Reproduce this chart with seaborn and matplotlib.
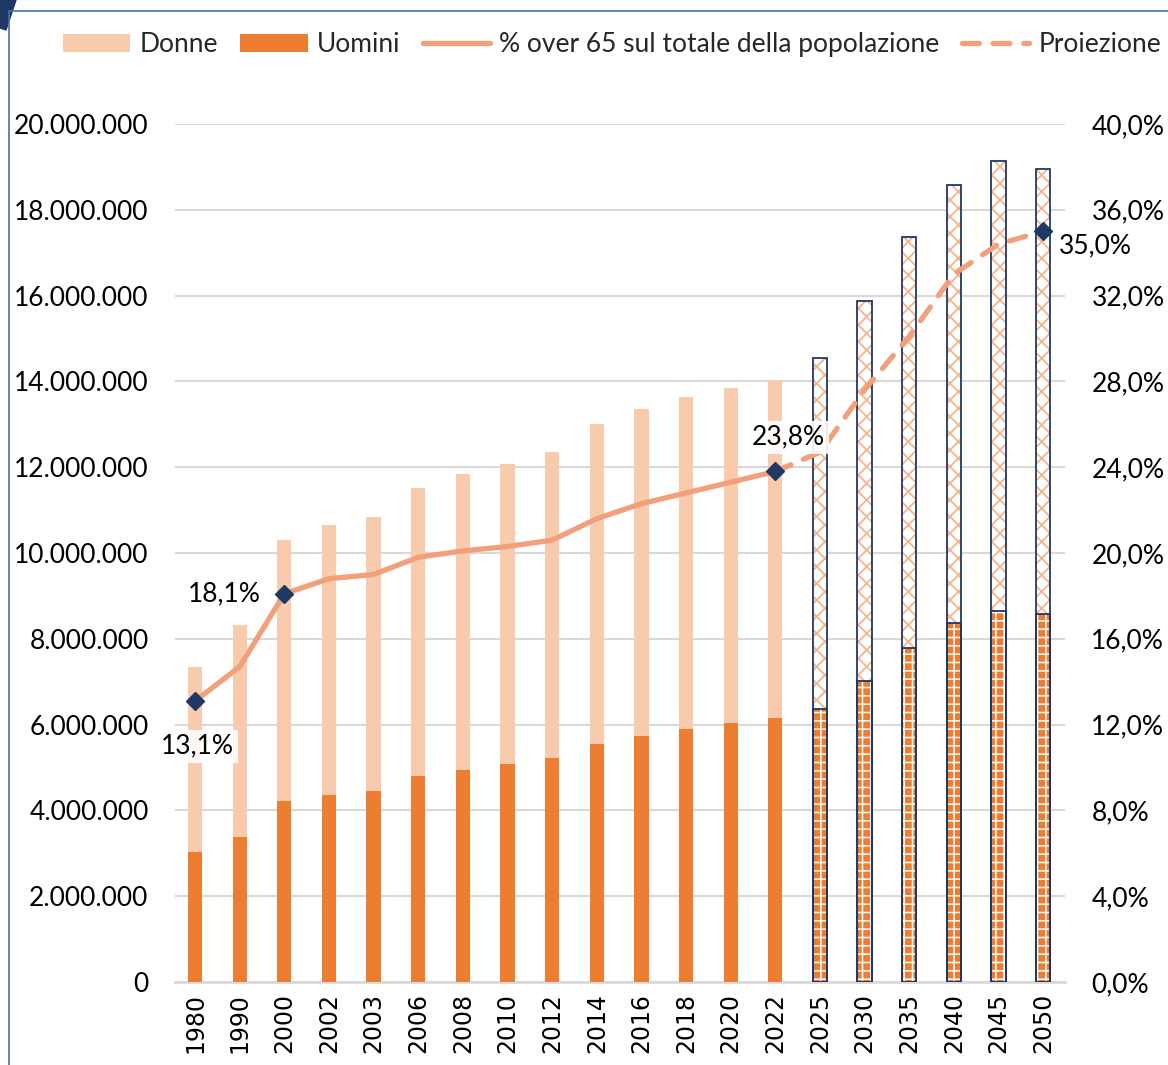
import numpy as np
import pandas as pd
import matplotlib
matplotlib.use("Agg")
import matplotlib.pyplot as plt
from matplotlib.lines import Line2D
from matplotlib.patches import Patch, Polygon
import seaborn as sns

# ---- data ----
years = ["1980", "1990", "2000", "2002", "2003", "2006", "2008", "2010", "2012", "2014",
         "2016", "2018", "2020", "2022", "2025", "2030", "2035", "2040", "2045", "2050"]
totale = [7.35e6, 8.33e6, 10.30e6, 10.65e6, 10.85e6, 11.52e6, 11.84e6, 12.07e6, 12.36e6, 13.00e6,
          13.36e6, 13.64e6, 13.85e6, 14.03e6, 14.55e6, 15.87e6, 17.37e6, 18.58e6, 19.13e6, 18.94e6]
uomini = [3.02e6, 3.37e6, 4.22e6, 4.37e6, 4.46e6, 4.80e6, 4.94e6, 5.08e6, 5.23e6, 5.55e6,
          5.74e6, 5.90e6, 6.04e6, 6.15e6, 6.36e6, 7.02e6, 7.78e6, 8.37e6, 8.65e6, 8.58e6]
perc_over65 = [0.131, 0.147, 0.181, 0.188, 0.190, 0.198, 0.201, 0.203, 0.206, 0.216,
               0.223, 0.228, 0.233, 0.238, 0.247, 0.276, 0.301, 0.330, 0.344, 0.350]
n_storici = 14          # 1980..2022 observed, rest projected
marker_idx = [0, 2, 13, 19]
label_text = ["13,1%", "18,1%", "23,8%", "35,0%"]

# ---- style ----
sns.set_theme(style="white")
plt.rcParams["font.family"] = ["Lato", "DejaVu Sans"]
plt.rcParams["hatch.linewidth"] = 1.3

C_DONNE = "#F8CBAD"
C_UOMINI = "#ED7D31"
C_LINE = "#F2A07B"
C_NAVY = "#1F3864"
C_HATCH_D = "#F5B48A"
C_GRID = "#D9D9D9"

df = pd.DataFrame({"anno": years, "totale": totale, "uomini": uomini, "perc": perc_over65})
df["pos"] = np.arange(len(df))

fig = plt.figure(figsize=(11.68, 10.65), dpi=100)
ax = fig.add_axes([175 / 1168, 1 - 982 / 1065, (1065 - 175) / 1168, (982 - 124) / 1065])

bw = 0.32
sns.barplot(data=df, x="anno", y="totale", order=years, color=C_DONNE, saturation=1,
            width=bw, ax=ax, linewidth=0, zorder=2)
sns.barplot(data=df, x="anno", y="uomini", order=years, color=C_UOMINI, saturation=1,
            width=bw, ax=ax, linewidth=0, zorder=3)

patches = ax.patches
n = len(years)
tot_patches = patches[:n]
uom_patches = patches[n:2 * n]
for i in range(n_storici, n):
    p = tot_patches[i]
    p.set_facecolor("white"); p.set_edgecolor(C_HATCH_D); p.set_hatch("xx"); p.set_linewidth(0)
    q = uom_patches[i]
    q.set_facecolor(C_UOMINI); q.set_edgecolor("white"); q.set_hatch("++"); q.set_linewidth(0)
    if hasattr(q, "set_hatch_linewidth"):
        q.set_hatch_linewidth(1.1)
        p.set_hatch_linewidth(1.3)

proj = df.iloc[n_storici:]
ax.bar(proj["pos"], proj["totale"], width=bw, fill=False, edgecolor=C_NAVY, linewidth=1.3, zorder=4)
ax.bar(proj["pos"], proj["uomini"], width=bw, fill=False, edgecolor=C_NAVY, linewidth=1.3, zorder=4)

ax.set_xlim(-0.45, 19.49)
ax.set_ylim(0, 20e6)
ax.set_yticks(np.arange(0, 20e6 + 1, 2e6))
ax.set_yticklabels([f"{int(v):,}".replace(",", ".") for v in np.arange(0, 20e6 + 1, 2e6)])
ax.set_xlabel(""); ax.set_ylabel("")
ax.tick_params(axis="y", length=0, pad=19, labelsize=19, colors="black")
ax.tick_params(axis="x", length=0, pad=8, labelsize=17, rotation=90, colors="black")
for lab in ax.get_xticklabels():
    lab.set_family(["DejaVu Sans"])
ax.grid(axis="y", color=C_GRID, linewidth=1.5, zorder=0)
ax.set_axisbelow(True)
for s in ["top", "left", "right"]:
    ax.spines[s].set_visible(False)
ax.spines["bottom"].set_color(C_GRID)
ax.spines["bottom"].set_linewidth(2)

# ---- secondary axis: % over 65 ----
ax2 = ax.twinx()
hist = df.iloc[:n_storici]
proj_l = df.iloc[n_storici - 1:]
sns.lineplot(x=hist["pos"].to_numpy(), y=hist["perc"].to_numpy(), ax=ax2, color=C_LINE,
             linewidth=3.8, zorder=5, solid_capstyle="round")
sns.lineplot(x=proj_l["pos"].to_numpy(), y=proj_l["perc"].to_numpy(), ax=ax2, color=C_LINE,
             linewidth=3.8, zorder=5, dashes=False)
ax2.lines[-1].set_linestyle((0, (3.2, 2.6)))
ax2.lines[-1].set_dash_capstyle("round")
mk = df.iloc[marker_idx]
ax2.plot(mk["pos"], mk["perc"], linestyle="none", marker="D", markersize=9,
         color=C_NAVY, zorder=6)
ax2.set_ylim(0, 0.40)
r_ticks = np.arange(0, 0.401, 0.04)
ax2.set_yticks(r_ticks)
ax2.set_yticklabels([f"{v*100:.1f}%".replace(".", ",") for v in r_ticks])
ax2.tick_params(axis="y", length=0, pad=19, labelsize=19, colors="black")
ax2.set_xlim(ax.get_xlim())
for s in ["top", "left", "right", "bottom"]:
    ax2.spines[s].set_visible(False)
ax2.grid(False)
ax2.set_ylabel("")

# data labels
lbl_offsets = [(0.05, -0.021, True), (-1.35, 0.0, False), (0.3, 0.016, True), (1.17, -0.007, False)]
for (idx, txt, (dx, dy, box)) in zip(marker_idx, label_text, lbl_offsets):
    bb = dict(boxstyle="square,pad=0.15", fc="white", ec="none", alpha=0.9) if box else None
    ax2.text(df["pos"][idx] + dx, df["perc"][idx] + dy, txt, ha="center", va="center",
             fontsize=19, color="black", zorder=7, bbox=bb, clip_on=False)

# ---- legend ----
handles = [Patch(facecolor=C_DONNE, edgecolor="none"),
           Patch(facecolor=C_UOMINI, edgecolor="none"),
           Line2D([], [], color=C_LINE, linewidth=3.8, solid_capstyle="round"),
           Line2D([], [], color=C_LINE, linewidth=3.8, linestyle=(0, (3.2, 2.6)), dash_capstyle="round")]
labels = ["Donne", "Uomini", "% over 65 sul totale della popolazione", "Proiezione"]
fig.legend(handles, labels, loc="center", bbox_to_anchor=(612 / 1168, 1 - 45 / 1065), ncol=4,
           frameon=False, fontsize=19, handlelength=2.55, handleheight=0.7, handletextpad=0.35,
           columnspacing=0.85)

# ---- frame decoration ----
fig.add_artist(Line2D([9 / 1168, 9 / 1168], [0, 1 - 11 / 1065], transform=fig.transFigure,
                      color="#4A6FA5", linewidth=1.2))
fig.add_artist(Line2D([9 / 1168, 1], [1 - 11 / 1065, 1 - 11 / 1065], transform=fig.transFigure,
                      color="#4A6FA5", linewidth=1.2))
fig.add_artist(Polygon([[0, 1], [16 / 1168, 1], [6 / 1168, 1 - 30 / 1065], [0, 1 - 28 / 1065]],
                       closed=True, transform=fig.transFigure, color=C_NAVY))

fig.savefig("out.png", dpi=100)
